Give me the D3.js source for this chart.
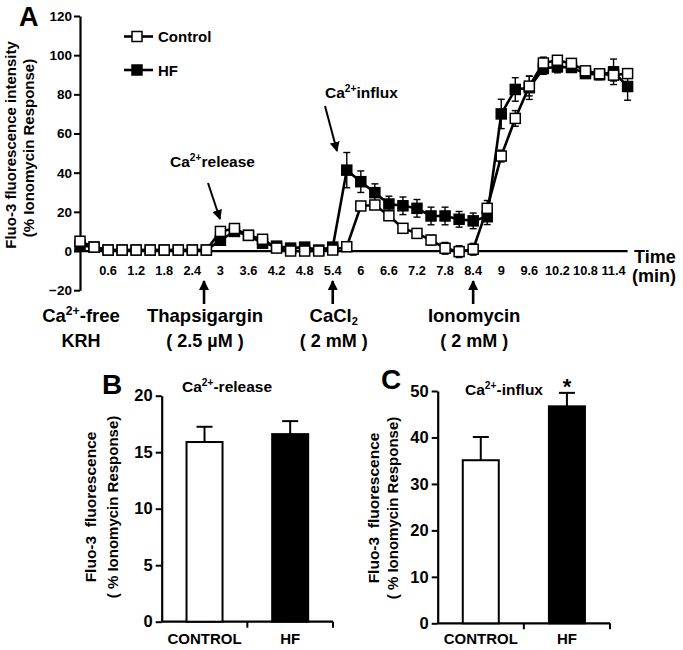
<!DOCTYPE html>
<html><head><meta charset="utf-8">
<script src="https://cdn.jsdelivr.net/npm/d3@7"></script>
<style>body{margin:0;background:#fff}text{font-family:"Liberation Sans",Arial,sans-serif;font-weight:bold;fill:#000}</style>
</head><body><svg id="c" width="683" height="650"></svg>
<script>
// ---------- DATA ----------
const times = [0,0.3,0.6,0.9,1.2,1.5,1.8,2.1,2.4,2.7,3,3.3,3.6,3.9,4.2,4.5,4.8,5.1,5.4,5.7,6,6.3,6.6,6.9,7.2,7.5,7.8,8.1,8.4,8.7,9,9.3,9.6,9.9,10.2,10.5,10.8,11.1,11.4,11.7];
const controlMean = [5,2,0.5,0.5,0.5,0.5,0.5,0.5,0.5,0.5, 10,11.5,8,6,1.5,0,0,0,0.5,2.2, 23,23.5,18,11.6,9,5.6,1.4,-0.3,0.9,21.8, 48.5,67.7,84.2,96,97.4,95.8,92,90.5,89.8,90.6];
const controlErr  = [1.5,1.5,1.5,1.5,1.5,1.5,1.5,1.5,1.5,1.5, 2,2,2,1.5,1.5,1.5,1.5,1,1.5,1, 2,2,2,2,2,2.5,3,3,3,4, 3,4,5,3,2,2,2,2,3,2];
const hfMean = [3,2,0.5,0.5,0.5,0.5,0.5,0.5,0.5,0.5, 5.5,10,8,4,2.5,1.5,2,0.5,2,41.3, 35.4,29.8,24,23.1,21.8,17.9,17.9,16.2,15.4,17.5, 70,82.5,83.4,93.2,94,93.7,90.6,90,91.5,84];
const hfErr  = [1,1,1,1,1,1,1,1,1,1, 2,2,2,1.5,1.5,1.5,1.5,1,1.5,9, 5.5,4.5,4,4.5,4.5,4.5,4.5,4,4,4, 7.5,6,6,3,3,2,2,2.5,6.5,7];
const xTickValues = [0.6,1.2,1.8,2.4,3,3.6,4.2,4.8,5.4,6,6.6,7.2,7.8,8.4,9,9.6,10.2,10.8,11.4];
const yTicksA = [-20,0,20,40,60,80,100,120];
const treatments = [
  {t:0,    l1:[["Ca"],["2+","sup"],["-free"]], l2:"KRH", arrow:false},
  {t:2.65, l1:[["Thapsigargin"]], l2:"( 2.5 \u00b5M )", arrow:true},
  {t:5.4,  l1:[["CaCl"],["2","sub"]], l2:"( 2 mM )", arrow:true},
  {t:8.4,  l1:[["Ionomycin"]], l2:"( 2 mM )", arrow:true}
];
const barCats = ["CONTROL","HF"];
const releaseMean = [15.9,16.6], releaseErr = [1.35,1.15];
const influxMean = [35.1,46.7], influxErr = [5.0,2.9];
const yTicksB = [0,5,10,15,20], yTicksC = [0,10,20,30,40,50];

// ---------- HELPERS ----------
const svg = d3.select("#c");
const defs = svg.append("defs");
defs.append("marker").attr("id","ah").attr("viewBox","0 0 10 10").attr("refX",9).attr("refY",5)
  .attr("markerWidth",10).attr("markerHeight",10).attr("markerUnits","userSpaceOnUse").attr("orient","auto")
  .append("path").attr("d","M0,0L10,5L0,10z").attr("fill","#000");

function rich(g,x,y,parts,size,anchor){
  const t=g.append("text").attr("x",x).attr("y",y).attr("font-size",size).attr("text-anchor",anchor||"start");
  let shift=0;
  parts.forEach(p=>{
    const target = p[1]==="sup" ? -0.38*size : p[1]==="sub" ? 0.18*size : 0;
    const ts=t.append("tspan").text(p[0]).attr("dy",target-shift);
    if(p[1]) ts.attr("font-size",size*(p[1]==="sub"?0.6:0.66));
    shift=target;
  });
  return t;
}

// ---------- PANEL A ----------
const x = d3.scaleLinear().domain([0,11.7]).range([80,627.6]);
const y = d3.scaleLinear().domain([-20,120]).range([290.2,16]);
const gA = svg.append("g");

const yAx = gA.append("g").attr("transform","translate(80,0)")
  .call(d3.axisLeft(y).tickValues(yTicksA).tickSize(6).tickSizeOuter(0).tickFormat(d3.format("d")));
yAx.select(".domain").attr("stroke-width",2.2);
yAx.selectAll(".tick line").attr("stroke-width",2);
yAx.selectAll(".tick text").attr("font-size",13.5).attr("font-family","Liberation Sans, Arial").attr("font-weight","bold").attr("x",-8);

gA.append("line").attr("x1",x(0)).attr("x2",x(11.7)).attr("y1",y(0)).attr("y2",y(0)).attr("stroke","#000").attr("stroke-width",2.2);
gA.selectAll("text.xt").data(xTickValues).join("text").attr("class","xt")
  .attr("x",d=>x(d)).attr("y",275).attr("text-anchor","middle").attr("font-size",12.8).text(d=>d);
gA.append("text").attr("x",634).attr("y",263).attr("font-size",18).text("Time");
gA.append("text").attr("x",632).attr("y",282).attr("font-size",18).text("(min)");

const yt = gA.append("g");
yt.append("text").attr("transform","translate(16,145) rotate(-90)").attr("text-anchor","middle").attr("font-size",15).text("Fluo-3 fluorescence intensity");
yt.append("text").attr("transform","translate(34,148) rotate(-90)").attr("text-anchor","middle").attr("font-size",15).text("(% Ionomycin Response)");

gA.append("text").attr("x",19).attr("y",26).attr("font-size",27).text("A");

const series = [
  {mean:hfMean, err:hfErr, fill:"#000"},
  {mean:controlMean, err:controlErr, fill:"#fff"}
];
const line = d3.line().x((d,i)=>x(times[i])).y(d=>y(d));
series.forEach(s=>{
  gA.append("path").attr("d",line(s.mean)).attr("fill","none").attr("stroke","#000").attr("stroke-width",2.6);
});
series.forEach(s=>{
  const eg=gA.append("g").attr("stroke","#000").attr("stroke-width",1.4);
  s.mean.forEach((m,i)=>{
    const cx=x(times[i]), y1=y(m+s.err[i]), y2=y(m-s.err[i]);
    eg.append("line").attr("x1",cx).attr("x2",cx).attr("y1",y1).attr("y2",y2);
    eg.append("line").attr("x1",cx-3.5).attr("x2",cx+3.5).attr("y1",y1).attr("y2",y1);
    eg.append("line").attr("x1",cx-3.5).attr("x2",cx+3.5).attr("y1",y2).attr("y2",y2);
  });
});
series.forEach(s=>{
  gA.append("g").selectAll("rect").data(s.mean).join("rect")
    .attr("x",(d,i)=>x(times[i])-5).attr("y",d=>y(d)-5).attr("width",10).attr("height",10)
    .attr("fill",s.fill).attr("stroke","#000").attr("stroke-width",1.5);
});

[{lab:"Control",fill:"#fff",yy:36.5},{lab:"HF",fill:"#000",yy:70}].forEach(l=>{
  gA.append("line").attr("x1",124).attr("x2",153).attr("y1",l.yy).attr("y2",l.yy).attr("stroke","#000").attr("stroke-width",2.6);
  gA.append("rect").attr("x",132).attr("y",l.yy-5).attr("width",10).attr("height",10).attr("fill",l.fill).attr("stroke","#000").attr("stroke-width",1.5);
  gA.append("text").attr("x",158).attr("y",l.yy+5.5).attr("font-size",15).text(l.lab);
});

rich(gA,170,167,[["Ca"],["2+","sup"],["release"]],15.5);
gA.append("line").attr("x1",208).attr("y1",183).attr("x2",220).attr("y2",219).attr("stroke","#000").attr("stroke-width",2).attr("marker-end","url(#ah)");
rich(gA,325,98,[["Ca"],["2+","sup"],["influx"]],15.5);
gA.append("line").attr("x1",325).attr("y1",106).attr("x2",337).attr("y2",151).attr("stroke","#000").attr("stroke-width",2).attr("marker-end","url(#ah)");

treatments.forEach(tr=>{
  const cx=x(tr.t);
  if(tr.arrow) gA.append("line").attr("x1",cx).attr("x2",cx).attr("y1",304).attr("y2",281).attr("stroke","#000").attr("stroke-width",2.6).attr("marker-end","url(#ah)");
  rich(gA,cx+1,322,tr.l1,18.5,"middle");
  gA.append("text").attr("x",cx+1).attr("y",347).attr("text-anchor","middle").attr("font-size",18).text(tr.l2);
});

// ---------- BAR PANELS ----------
function barPanel(o){
  const g=svg.append("g");
  const xb=d3.scaleBand().domain(barCats).range([o.x0,o.x1]);
  const yb=d3.scaleLinear().domain([0,o.max]).range([o.y0,o.yTop]);
  const ya=g.append("g").attr("transform",`translate(${o.x0},0)`).call(d3.axisLeft(yb).tickValues(o.ticks).tickSize(6).tickSizeOuter(0));
  ya.select(".domain").attr("stroke-width",2.2);
  ya.selectAll(".tick line").attr("stroke-width",2);
  ya.selectAll(".tick text").attr("font-size",16.5).attr("font-family","Liberation Sans, Arial").attr("font-weight","bold").attr("x",-9);
  g.append("line").attr("x1",o.x0).attr("x2",o.x1).attr("y1",o.y0).attr("y2",o.y0).attr("stroke","#000").attr("stroke-width",2.2);
  [xb.step()+o.x0, o.x1].forEach(v=>g.append("line").attr("x1",v).attr("x2",v).attr("y1",o.y0).attr("y2",o.y0+6).attr("stroke","#000").attr("stroke-width",2));
  const bw=36;
  barCats.forEach((c,i)=>{
    const cx=xb(c)+xb.bandwidth()/2;
    const top=yb(o.mean[i]), et=yb(o.mean[i]+o.err[i]);
    g.append("line").attr("x1",cx).attr("x2",cx).attr("y1",top).attr("y2",et).attr("stroke","#000").attr("stroke-width",2);
    g.append("line").attr("x1",cx-8).attr("x2",cx+8).attr("y1",et).attr("y2",et).attr("stroke","#000").attr("stroke-width",2);
    g.append("rect").attr("x",cx-bw/2).attr("y",top).attr("width",bw).attr("height",o.y0-top)
      .attr("fill",i===0?"#fff":"#000").attr("stroke","#000").attr("stroke-width",2);
    g.append("text").attr("x",cx).attr("y",644).attr("text-anchor","middle").attr("font-size",15).text(c);
  });
  g.append("text").attr("transform",`translate(${o.t1x},${o.ty}) rotate(-90)`).attr("text-anchor","middle").attr("font-size",15.5).text("Fluo-3\u00a0 fluorescence");
  g.append("text").attr("transform",`translate(${o.t2x},${o.ty}) rotate(-90)`).attr("text-anchor","middle").attr("font-size",15).text("( % Ionomycin Response)");
  g.append("text").attr("x",o.lx).attr("y",o.ly).attr("text-anchor","middle").attr("font-size",28).text(o.letter);
  rich(g,o.titleX,o.titleY,o.title,15.5,"middle");
  return {g,xb,yb};
}
barPanel({x0:161.7,x1:333,y0:621.7,yTop:395.7,max:20,ticks:yTicksB,mean:releaseMean,err:releaseErr,
  t1x:96,t2x:118,ty:507,letter:"B",lx:112,ly:394,title:[["Ca"],["2+","sup"],["-release"]],titleX:227,titleY:392});
const pc=barPanel({x0:437.7,x1:610,y0:623.3,yTop:391,max:50,ticks:yTicksC,mean:influxMean,err:influxErr,
  t1x:379,t2x:398,ty:508,letter:"C",lx:391,ly:389,title:[["Ca"],["2+","sup"],["-influx"]],titleX:504,titleY:395});
pc.g.append("text").attr("x",pc.xb("HF")+pc.xb.bandwidth()/2).attr("y",394).attr("text-anchor","middle").attr("font-size",22).text("*");
</script></body></html>
